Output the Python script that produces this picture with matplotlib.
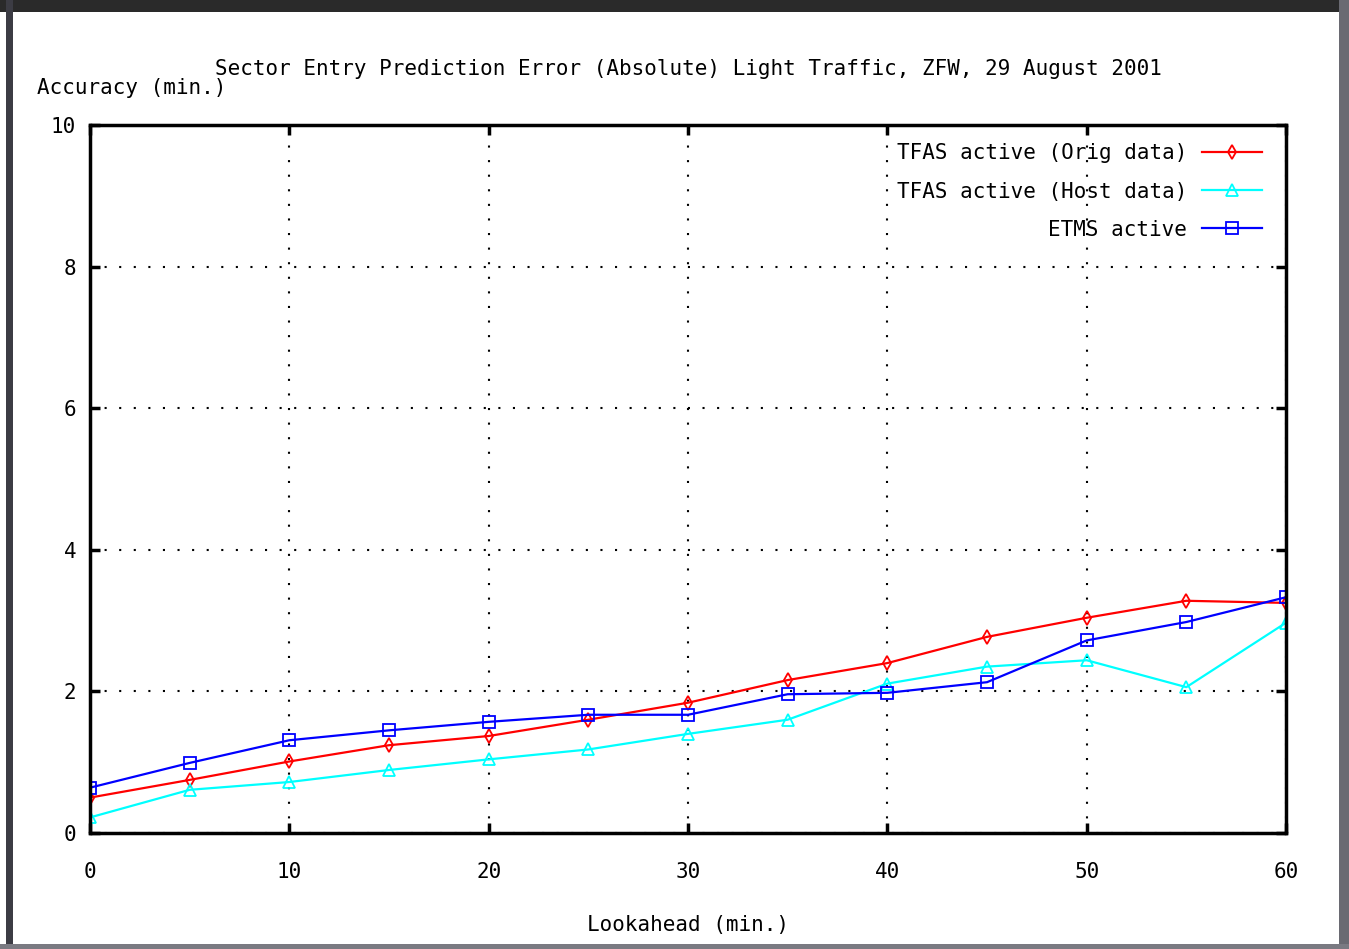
import matplotlib
matplotlib.use("Agg")
import matplotlib.pyplot as plt
from matplotlib.patches import Rectangle

# Lookahead (min.) and absolute prediction error (min.)
lookahead = [0, 5, 10, 15, 20, 25, 30, 35, 40, 45, 50, 55, 60]
tfas_orig = [0.50, 0.75, 1.01, 1.24, 1.37, 1.60, 1.84, 2.16, 2.40, 2.77, 3.04, 3.28, 3.25]
tfas_host = [0.22, 0.61, 0.72, 0.89, 1.04, 1.18, 1.40, 1.60, 2.11, 2.35, 2.44, 2.06, 2.97]
etms = [0.64, 0.99, 1.31, 1.45, 1.57, 1.67, 1.67, 1.96, 1.98, 2.13, 2.72, 2.98, 3.33]

xticks = [0, 10, 20, 30, 40, 50, 60]
yticks = [0, 2, 4, 6, 8, 10]

plt.rcParams['font.family'] = ['DejaVu Sans Mono']
fs = 15

fig = plt.figure(figsize=(13.49, 9.49), dpi=100)
fig.patch.set_facecolor('white')

# window frame around the plot
fig.patches.append(Rectangle((0, 1 - 12 / 949), 1, 12 / 949, transform=fig.transFigure,
                             facecolor='#2a2a2a', edgecolor='none'))
fig.patches.append(Rectangle((6 / 1349, 0), 7 / 1349, 1, transform=fig.transFigure,
                             facecolor='#3c3c44', edgecolor='none'))
fig.patches.append(Rectangle((1 - 10 / 1349, 0), 10 / 1349, 1, transform=fig.transFigure,
                             facecolor='#6a6a72', edgecolor='none'))
fig.patches.append(Rectangle((0, 0), 1, 5 / 949, transform=fig.transFigure,
                             facecolor='#7a7a82', edgecolor='none'))

ax = fig.add_axes([90 / 1349, 1 - 833 / 949, (1286 - 90) / 1349, (833 - 125) / 949])

ax.plot(lookahead, tfas_orig, color='#ff0000', lw=1.6, marker='d', ms=7,
        mfc='none', mew=1.3, label='TFAS active (Orig data)')
ax.plot(lookahead, tfas_host, color='#00ffff', lw=1.6, marker='^', ms=9,
        mfc='none', mew=1.3, label='TFAS active (Host data)')
ax.plot(lookahead, etms, color='#0000ff', lw=1.6, marker='s', ms=8,
        mfc='none', mew=1.3, label='ETMS active')

ax.set_xlim(0, 60)
ax.set_ylim(0, 10)
ax.set_xticks(xticks)
ax.set_yticks(yticks)
ax.grid(True, color='black', linestyle=(0, (1, 6)), linewidth=1.5)
ax.tick_params(direction='in', length=7, width=2.5, top=True, right=True,
               labelsize=fs, pad=10)
ax.tick_params(axis='x', pad=21)
for sp in ax.spines.values():
    sp.set_linewidth(2.5)

ax.set_xlabel('Lookahead (min.)', fontsize=fs, labelpad=24)
ax.set_title('Sector Entry Prediction Error (Absolute) Light Traffic, ZFW, 29 August 2001',
             fontsize=fs, pad=36)
fig.text(37 / 1349, 1 - 88 / 949, 'Accuracy (min.)', fontsize=fs, va='center', ha='left')

leg = ax.legend(loc='upper right', bbox_to_anchor=(0.98, 0.974), frameon=False,
                markerfirst=False, fontsize=fs, handlelength=2.9, labelspacing=0.87,
                borderaxespad=0, borderpad=0, handletextpad=0.7)

fig.savefig('out.png', dpi=100, facecolor='white')
